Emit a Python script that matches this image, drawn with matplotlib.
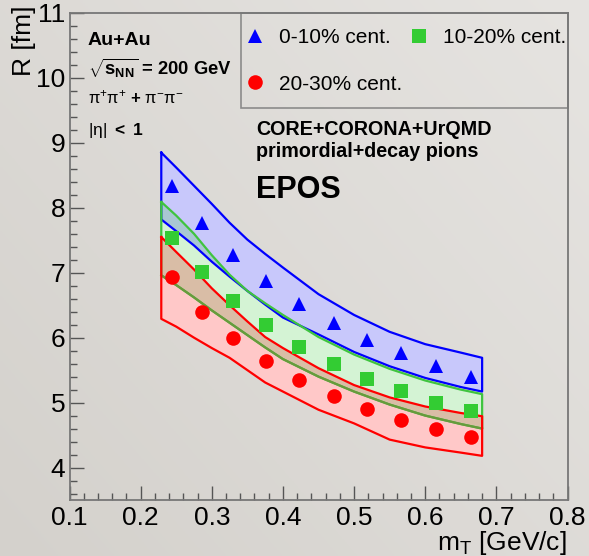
import numpy as np
import matplotlib
matplotlib.use("Agg")
import matplotlib.pyplot as plt
from matplotlib.ticker import MultipleLocator
from matplotlib.legend_handler import HandlerLine2D
from matplotlib.lines import Line2D

plt.rcParams['font.family'] = ['Liberation Sans', 'DejaVu Sans']
plt.rcParams['mathtext.fontset'] = 'custom'
plt.rcParams['mathtext.rm'] = 'Liberation Sans'
plt.rcParams['mathtext.it'] = 'Liberation Sans:italic'
plt.rcParams['mathtext.bf'] = 'Liberation Sans:bold'

# Measured HBT radii vs transverse mass
mt_points = [0.244, 0.286, 0.330, 0.376, 0.423, 0.472, 0.518, 0.566, 0.615, 0.664]
r_0_10 = [8.33, 7.77, 7.28, 6.87, 6.52, 6.22, 5.96, 5.76, 5.56, 5.40]
r_10_20 = [7.54, 7.01, 6.57, 6.19, 5.86, 5.59, 5.37, 5.18, 5.00, 4.87]
r_20_30 = [6.94, 6.40, 6.00, 5.64, 5.35, 5.10, 4.90, 4.73, 4.59, 4.47]

# EPOS model bands (lower / upper edges)
mt_band = [0.229, 0.25, 0.275, 0.30, 0.325, 0.35, 0.375, 0.40, 0.45, 0.50, 0.55, 0.60, 0.65, 0.68]
band_0_10_hi = [8.85, 8.62, 8.34, 8.06, 7.77, 7.51, 7.29, 7.08, 6.67, 6.35, 6.09, 5.90, 5.77, 5.69]
band_0_10_lo = [7.82, 7.64, 7.42, 7.17, 6.94, 6.72, 6.51, 6.31, 6.05, 5.78, 5.56, 5.38, 5.24, 5.17]
band_10_20_hi = [8.09, 7.88, 7.60, 7.27, 6.97, 6.72, 6.53, 6.35, 6.01, 5.74, 5.52, 5.34, 5.20, 5.13]
band_10_20_lo = [6.96, 6.81, 6.62, 6.42, 6.23, 6.04, 5.85, 5.67, 5.40, 5.17, 4.97, 4.80, 4.67, 4.60]
band_20_30_hi = [7.55, 7.32, 7.05, 6.76, 6.50, 6.25, 6.01, 5.84, 5.53, 5.27, 5.08, 4.94, 4.84, 4.79]
band_20_30_lo = [6.29, 6.17, 6.00, 5.84, 5.69, 5.50, 5.31, 5.17, 4.89, 4.68, 4.43, 4.31, 4.23, 4.18]

labels = ["0-10% cent.", "10-20% cent.", "20-30% cent."]
x_ticks = [0.1, 0.2, 0.3, 0.4, 0.5, 0.6, 0.7, 0.8]
y_ticks = [4, 5, 6, 7, 8, 9, 10, 11]

W, H = 589, 556
fig = plt.figure(figsize=(W / 100, H / 100), dpi=100)

# soft grey canvas gradient
bg = fig.add_axes([0, 0, 1, 1], zorder=-10)
gx, gy = np.meshgrid(np.linspace(0, 1, 200), np.linspace(0, 1, 200))
g = 0.55 * gx + 0.45 * gy
c0 = np.array([212, 209, 204]) / 255
c1 = np.array([230, 228, 225]) / 255
img = c0[None, None, :] * (1 - g[..., None]) + c1[None, None, :] * g[..., None]
bg.imshow(img, origin='lower', extent=[0, 1, 0, 1], aspect='auto')
bg.set_axis_off()

ax = fig.add_axes([69.5 / W, 1 - 500 / H, 498 / W, 487 / H])
ax.set_facecolor('none')

xb = np.array(mt_band)
b_hi, b_lo = np.array(band_0_10_hi), np.array(band_0_10_lo)
g_hi, g_lo = np.array(band_10_20_hi), np.array(band_10_20_lo)
r_hi, r_lo = np.array(band_20_30_hi), np.array(band_20_30_lo)

# band fills
ax.fill_between(xb, b_lo, b_hi, color='#c8c8fb', lw=0, zorder=1)
ax.fill_between(xb, g_lo, g_hi, color='#d4f3d4', lw=0, zorder=1)
ax.fill_between(xb, r_lo, r_hi, color='#ffc8c8', lw=0, zorder=1)
# overlapping regions
ax.fill_between(xb, np.maximum(g_lo, r_lo), np.minimum(g_hi, r_hi),
                where=np.minimum(g_hi, r_hi) > np.maximum(g_lo, r_lo),
                interpolate=True, color='#d9bda6', lw=0, zorder=2)
ax.fill_between(xb, b_lo, g_hi, where=g_hi > b_lo, interpolate=True,
                color='#a9c7d3', lw=0, zorder=2)

# band outlines
def outline(lo, hi, color):
    xs = np.concatenate([xb, xb[::-1], xb[:1]])
    ys = np.concatenate([hi, lo[::-1], hi[:1]])
    ax.plot(xs, ys, color=color, lw=1.6, zorder=3, solid_joinstyle='round')

outline(b_lo, b_hi, '#0000ff')
outline(g_lo, g_hi, '#3fc43f')
ax.plot(xb, g_lo, color='#689a3c', lw=1.6, zorder=3, solid_joinstyle='round')
outline(r_lo, r_hi, '#ff0000')

h1, = ax.plot(mt_points, r_0_10, ls='none', marker='^', ms=10.3, color='#0000ff', mew=0, zorder=5)
h2, = ax.plot(mt_points, r_10_20, ls='none', marker='s', ms=10.0, color='#33cc33', mew=0, zorder=5)
h3, = ax.plot(mt_points, r_20_30, ls='none', marker='o', ms=10.5, color='#ff0000', mew=0, zorder=5)

ax.set_xlim(0.1, 0.8)
ax.set_ylim(3.5, 11)
ax.set_xticks(x_ticks)
ax.set_xticklabels([f"{v:.1f}" for v in x_ticks])
ax.set_yticks(y_ticks)
ax.set_yticklabels([str(v) for v in y_ticks])
ax.xaxis.set_minor_locator(MultipleLocator(0.02))
ax.yaxis.set_minor_locator(MultipleLocator(0.2))
ax.tick_params(which='both', direction='in', top=False, right=False,
               color='#555555', width=1.0)
ax.tick_params(which='major', length=10, labelsize=19)
ax.tick_params(which='minor', length=5)
ax.tick_params(axis='x', which='major', pad=4)
ax.tick_params(axis='y', which='major', pad=3)
for s in ax.spines.values():
    s.set_color('#777777')
    s.set_linewidth(1.3)


def centred_marker(legend_handle, orig_handle):
    # keep the legend symbol level with its label in the tall rows
    legend_handle.update_from(orig_handle)
    legend_handle.set_ydata(np.asarray(legend_handle.get_ydata()) - 5.0)


leg = ax.legend([h1, h3, h2], [labels[0], labels[2], labels[1]], ncol=2,
                loc='upper right', bbox_to_anchor=(1.0, 1.0), borderaxespad=0,
                fontsize=15, frameon=True, fancybox=False, edgecolor='#777777',
                facecolor='none', borderpad=0.05, handlelength=1.3,
                handleheight=3.05, labelspacing=0.0, handletextpad=0.5,
                columnspacing=0.15,
                handler_map={Line2D: HandlerLine2D(update_func=centred_marker)})
leg.get_frame().set_linewidth(1.2)

def ftxt(px, py, s, **kw):
    fig.text(px / W, 1 - py / H, s, va='baseline', ha='left', **kw)

ftxt(88, 45, 'Au+Au', fontsize=14, fontweight='bold')
ftxt(88, 75, r'$\sqrt{\mathbf{s}_{\mathbf{NN}}}$ = 200 GeV', fontsize=13.2, fontweight='bold')
ftxt(88, 103, r'$\mathrm{\pi}^{+}\mathrm{\pi}^{+}$ $\mathbf{+}$ $\mathrm{\pi}^{-}\mathrm{\pi}^{-}$', fontsize=12)
ftxt(88, 135, r'$|\mathrm{\eta}|$ $\mathbf{<}$ $\mathbf{1}$', fontsize=12.5)

ftxt(256.5, 135, 'CORE+CORONA+UrQMD', fontsize=14.2, fontweight='bold')
ftxt(256.5, 157, 'primordial+decay pions', fontsize=14.2, fontweight='bold')
ftxt(255.5, 198, 'EPOS', fontsize=22, fontweight='bold')

fig.text(24 / W, 1 - 41 / H, 'R [fm]', rotation=90, ha='center', va='center', fontsize=19)
fig.text(567 / W, 1 - 550 / H, r'm$_{\mathrm{T}}$ [GeV/c]', ha='right', va='baseline', fontsize=19)

fig.savefig('out.png', dpi=100)
